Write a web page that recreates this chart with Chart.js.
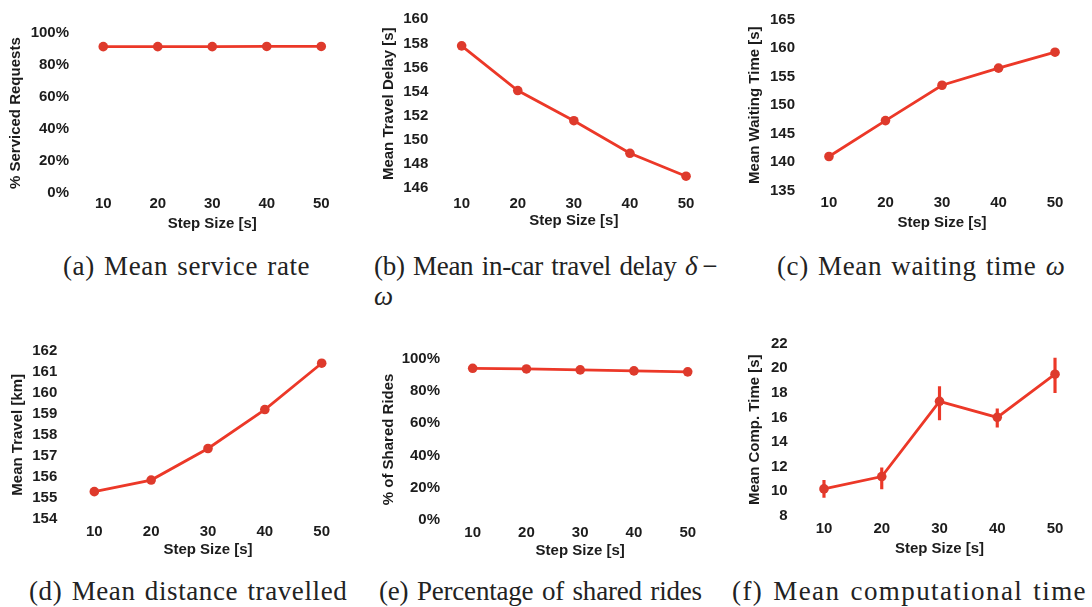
<!DOCTYPE html>
<html>
<head>
<meta charset="utf-8">
<script src="https://cdn.jsdelivr.net/npm/chart.js@4.4.1/dist/chart.umd.min.js"></script>
<style>
  html, body { margin: 0; padding: 0; background: #fff; }
  body { width: 1092px; height: 607px; position: relative; overflow: hidden; }
  .panel { position: absolute; }
  .cap {
    position: absolute;
    font-family: "Liberation Serif", "DejaVu Serif", serif;
    font-size: 27px;
    line-height: 30px;
    color: #222;
    white-space: nowrap;
    letter-spacing: 0.6px;
    word-spacing: 2px;
  }
</style>
</head>
<body>
<div class="panel" id="pa"><canvas></canvas></div>
<div class="panel" id="pb"><canvas></canvas></div>
<div class="panel" id="pc"><canvas></canvas></div>
<div class="panel" id="pd"><canvas></canvas></div>
<div class="panel" id="pe"><canvas></canvas></div>
<div class="panel" id="pf"><canvas></canvas></div>

<div class="cap" style="left:63px;top:251px">(a) Mean service rate</div>
<div class="cap" style="left:374px;top:251px;letter-spacing:-0.3px">(b) Mean in-car travel delay <i>δ</i>&thinsp;−<br><i>ω</i></div>
<div class="cap" style="left:777px;top:251px">(c) Mean waiting time <i>ω</i></div>
<div class="cap" style="left:29px;top:576px">(d) Mean distance travelled</div>
<div class="cap" style="left:379px;top:576px;letter-spacing:-0.2px">(e) Percentage of shared rides</div>
<div class="cap" style="left:732px;top:576px;letter-spacing:1.4px">(f) Mean computational time</div>

<script>
// datos
const stepSizes = ['10', '20', '30', '40', '50'];

const servicedPct = [91.5, 91.5, 91.5, 91.6, 91.6];
const travelDelay = [157.8, 154.1, 151.6, 148.9, 147.0];
const waitingTime = [141.0, 147.3, 153.5, 156.5, 159.3];
const travelKm = [155.3, 155.85, 157.35, 159.2, 161.4];
const sharedPct = [94.1, 93.7, 93.1, 92.5, 91.9];
const compTime = [10.2, 11.2, 17.3, 16.0, 19.5];
const compTimeLow = [9.5, 10.2, 15.8, 15.2, 18.0];
const compTimeHigh = [10.9, 11.9, 18.5, 16.7, 20.8];

// marcas del eje y
const pctTicks = [0, 20, 40, 60, 80, 100];
const delayTicks = [146, 148, 150, 152, 154, 156, 158, 160];
const waitTicks = [135, 140, 145, 150, 155, 160, 165];
const kmTicks = [154, 155, 156, 157, 158, 159, 160, 161, 162];
const compTicks = [8, 10, 12, 14, 16, 18, 20, 22];

const RED = 'rgb(236,56,40)';
const DOT = 'rgb(222,58,44)';
const INK = '#1c1c1c';
const FONT = { family: '"Liberation Sans", Arial, sans-serif', size: 15, weight: 'bold', lineHeight: 1.2 };

function lineSet(values) {
    return {
        type: 'line',
        data: values,
        borderColor: RED,
        backgroundColor: DOT,
        borderWidth: 2.8,
        pointRadius: 4.8,
        pointBackgroundColor: DOT,
        pointBorderWidth: 0,
        tension: 0,
        order: 0
    };
}

// box: área del gráfico (L, R, T, B) y posición de los títulos en la página
function makeChart(id, box, yTitle, yTicks, suffix, datasets) {
    const wrap = document.getElementById(id);
    const left = Math.round(box.titleX - 13);
    const top = Math.round(box.T - 12);
    const right = Math.round(box.R + 6);
    const bottom = Math.round(box.titleY + 11);
    wrap.style.left = left + 'px';
    wrap.style.top = top + 'px';
    wrap.style.width = (right - left) + 'px';
    wrap.style.height = (bottom - top) + 'px';
    const yW = box.L - left;
    const xH = bottom - box.B;

    new Chart(wrap.querySelector('canvas'), {
        type: 'line',
        data: { labels: stepSizes, datasets: datasets },
        options: {
            responsive: true,
            maintainAspectRatio: false,
            animation: false,
            layout: { padding: { top: box.T - top, right: right - box.R, left: 0, bottom: 0 } },
            plugins: { legend: { display: false }, tooltip: { enabled: false } },
            scales: {
                x: {
                    type: 'category',
                    offset: true,
                    grid: { display: false, drawTicks: false },
                    border: { display: false },
                    ticks: { padding: box.xPad, color: INK, font: FONT, maxRotation: 0 },
                    title: {
                        display: true, text: 'Step Size [s]', color: INK, font: FONT,
                        padding: { top: 0, bottom: bottom - box.titleY - 9 }
                    },
                    afterFit: s => { s.height = xH; }
                },
                y: {
                    min: yTicks[0],
                    max: yTicks[yTicks.length - 1],
                    grid: { display: false, drawTicks: false },
                    border: { display: false },
                    ticks: {
                        stepSize: yTicks[1] - yTicks[0],
                        padding: box.yPad, color: INK, font: FONT,
                        callback: v => v + suffix
                    },
                    title: {
                        display: true, text: yTitle, color: INK, font: FONT,
                        padding: { top: box.titleX - left - 9, bottom: 0 }
                    },
                    afterFit: s => { s.width = yW; }
                }
            }
        }
    });
}

makeChart('pa', { L: 76, R: 348.5, T: 29.3, B: 193.3, titleX: 16, titleY: 224, xPad: 2, yPad: 7 },
    '% Serviced Requests', pctTicks, '%', [lineSet(servicedPct)]);

makeChart('pb', { L: 433.6, R: 714.1, T: 16.7, B: 188.3, titleX: 388.8, titleY: 220.7, xPad: 6.7, yPad: 5.3 },
    'Mean Travel Delay [s]', delayTicks, '', [lineSet(travelDelay)]);

makeChart('pc', { L: 800.7, R: 1083.3, T: 16.7, B: 190.7, titleX: 754.5, titleY: 222.7, xPad: 3, yPad: 5.7 },
    'Mean Waiting Time [s]', waitTicks, '', [lineSet(waitingTime)]);

makeChart('pd', { L: 65.9, R: 350.1, T: 345, B: 519, titleX: 17.5, titleY: 550, xPad: 3.7, yPad: 8.6 },
    'Mean Travel [km]', kmTicks, '', [lineSet(travelKm)]);

makeChart('pe', { L: 445.8, R: 714.6, T: 356, B: 520, titleX: 389.2, titleY: 550.7, xPad: 3.7, yPad: 5.8 },
    '% of Shared Rides', pctTicks, '%', [lineSet(sharedPct)]);

// barras de error como barras flotantes finas
makeChart('pf', { L: 795.1, R: 1083.9, T: 339.3, B: 516, titleX: 755, titleY: 549.3, xPad: 4.3, yPad: 7.4 },
    'Mean Comp. Time [s]', compTicks, '', [
        lineSet(compTime),
        {
            type: 'bar',
            data: compTimeLow.map((lo, i) => [lo, compTimeHigh[i]]),
            backgroundColor: RED,
            barThickness: 2.5,
            order: 1
        }
    ]);
</script>
</body>
</html>
